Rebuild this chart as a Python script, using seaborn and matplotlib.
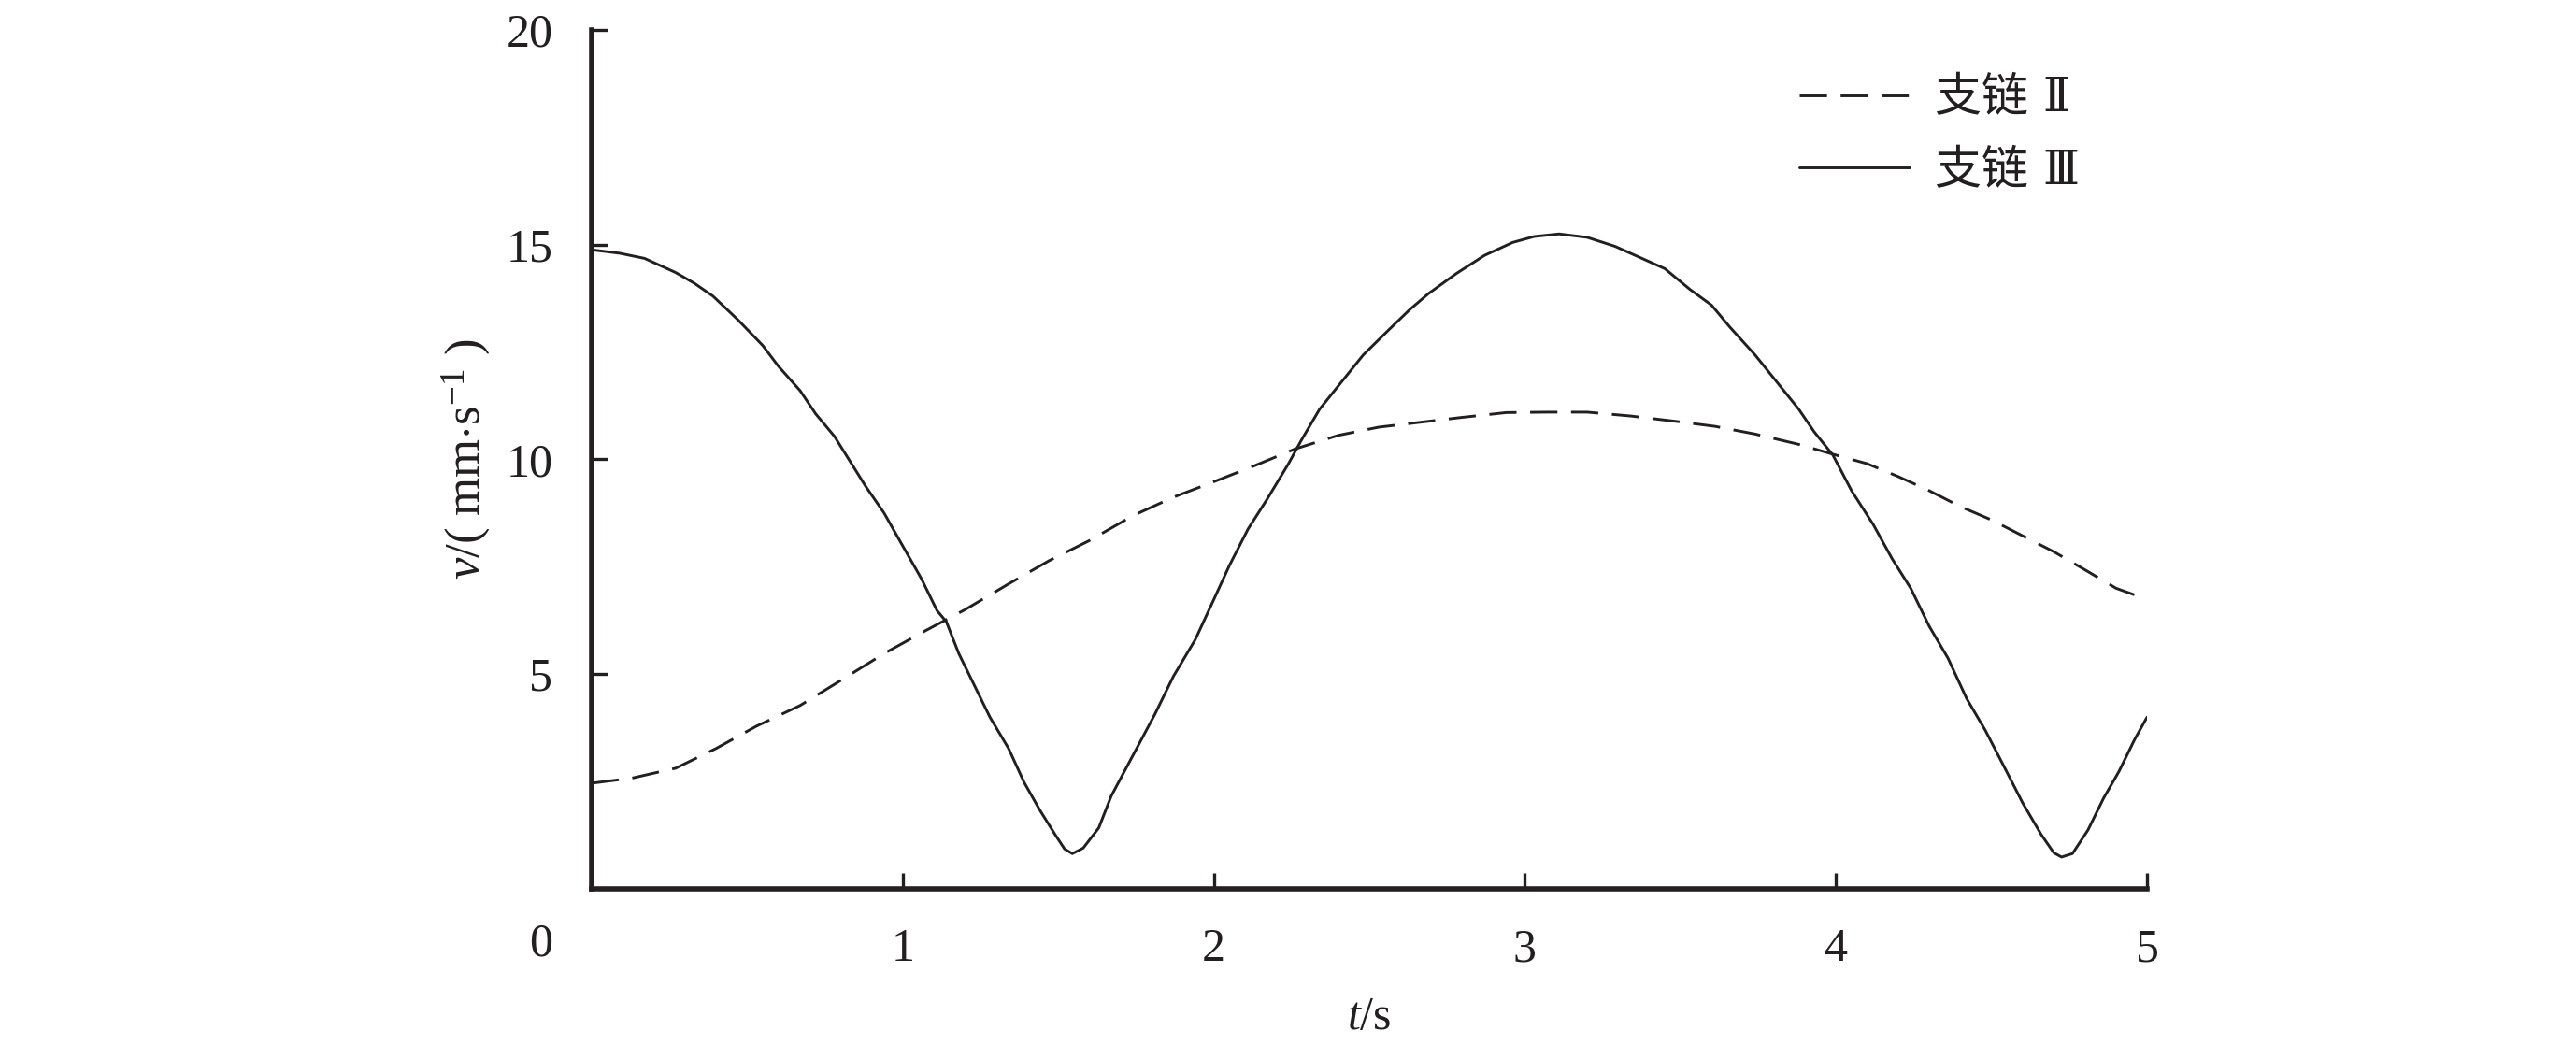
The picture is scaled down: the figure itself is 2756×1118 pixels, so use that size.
import numpy as np
import pandas as pd
import seaborn as sns
import matplotlib.pyplot as plt

# %%
# values (t in s, v in mm/s)
t_branch3 = [0, 0.09, 0.17, 0.27, 0.33, 0.39, 0.47, 0.55, 0.60, 0.67,
             0.72, 0.78, 0.83, 0.88, 0.94, 0.99, 1.06, 1.11, 1.14, 1.18,
             1.23, 1.28, 1.34, 1.39, 1.44, 1.49, 1.52, 1.545, 1.58, 1.63,
             1.67, 1.74, 1.81, 1.87, 1.94, 2.0, 2.05, 2.11, 2.17, 2.24,
             2.28, 2.34, 2.41, 2.48, 2.56, 2.63, 2.69, 2.78, 2.87, 2.96,
             3.03, 3.11, 3.2, 3.29, 3.37, 3.45, 3.53, 3.6, 3.66, 3.74,
             3.81, 3.88, 3.93, 3.99, 4.05, 4.12, 4.18, 4.24, 4.3, 4.36,
             4.42, 4.48, 4.54, 4.6, 4.66, 4.7, 4.725, 4.76, 4.81, 4.86,
             4.91, 4.96, 5.0]
v_branch3 = [14.88, 14.8, 14.68, 14.35, 14.1, 13.8, 13.25, 12.65, 12.17, 11.6,
             11.06, 10.54, 9.96, 9.38, 8.75, 8.11, 7.22, 6.48, 6.22, 5.48,
             4.74, 4.0, 3.27, 2.48, 1.84, 1.26, 0.93, 0.82, 0.95, 1.42,
             2.16, 3.11, 4.06, 4.95, 5.8, 6.74, 7.53, 8.38, 9.06, 9.9,
             10.43, 11.17, 11.8, 12.43, 13.0, 13.49, 13.86, 14.33, 14.75, 15.05,
             15.19, 15.25, 15.17, 14.96, 14.7, 14.44, 13.96, 13.59, 13.07, 12.43,
             11.8, 11.17, 10.64, 10.1, 9.27, 8.48, 7.69, 7.0, 6.11, 5.37,
             4.43, 3.69, 2.85, 2.0, 1.26, 0.84, 0.74, 0.82, 1.37, 2.11,
             2.74, 3.48, 4.0]

t_branch2 = [0, 0.13, 0.27, 0.4, 0.53, 0.67, 0.8, 0.94, 1.07, 1.2,
             1.34, 1.47, 1.6, 1.74, 1.87, 2.0, 2.13, 2.26, 2.4, 2.53,
             2.67, 2.8, 2.94, 3.07, 3.2, 3.34, 3.48, 3.61, 3.74, 3.88,
             4.0, 4.1, 4.2, 4.3, 4.4, 4.5, 4.6, 4.7, 4.8, 4.9, 5.0]
v_branch2 = [2.46, 2.58, 2.81, 3.27, 3.79, 4.27, 4.85, 5.48, 6.0, 6.5,
             7.1, 7.64, 8.11, 8.69, 9.12, 9.48, 9.85, 10.24, 10.56, 10.75,
             10.87, 10.98, 11.09, 11.1, 11.1, 11.01, 10.89, 10.77, 10.59, 10.35,
             10.1, 9.9, 9.6, 9.27, 8.9, 8.59, 8.22, 7.85, 7.43, 7.0, 6.74]

labels = ["支链 Ⅱ", "支链 Ⅲ"]
x_ticks = [1, 2, 3, 4, 5]
y_ticks = [5, 10, 15, 20]

# %%
sns.set_theme(style="white")
plt.rcParams["font.family"] = ["Liberation Serif", "Noto Sans CJK SC", "DejaVu Sans"]
plt.rcParams["mathtext.fontset"] = "custom"
plt.rcParams["mathtext.rm"] = "Liberation Serif"
plt.rcParams["mathtext.it"] = "Liberation Serif:italic"

ink = "#231f20"
fs = 18

fig = plt.figure(figsize=(13.78, 5.59), dpi=200)
ax = fig.add_axes([0.2297, 0.1494, 0.6038, 0.822])

df2 = pd.DataFrame({"t": t_branch2, "v": v_branch2})
df3 = pd.DataFrame({"t": t_branch3, "v": v_branch3})
sns.lineplot(data=df2, x="t", y="v", ax=ax, color=ink, lw=1.05,
             linestyle=(0, (10, 5)), label=labels[0])
sns.lineplot(data=df3, x="t", y="v", ax=ax, color=ink, lw=1.05,
             label=labels[1])

ax.set_xlim(0, 5)
ax.set_ylim(0, 20)
ax.set_xticks(x_ticks)
ax.set_yticks(y_ticks)
ax.tick_params(bottom=True, left=True, direction="in", length=6, width=1.2,
               color=ink, labelsize=fs, labelcolor=ink, pad=15)
for side in ["top", "right"]:
    ax.spines[side].set_visible(False)
for side in ["left", "bottom"]:
    ax.spines[side].set_linewidth(2.0)
    ax.spines[side].set_color(ink)

# origin label sits below the corner
ax.annotate("0", xy=(0, 0), xytext=(-19.5, -21.5), textcoords="offset points",
            ha="center", va="center", fontsize=fs, color=ink,
            annotation_clip=False)

ax.set_xlabel(r"$\mathit{t}$/s", fontsize=fs, color=ink)
ax.set_ylabel(r"$\mathit{v}$/( mm$\cdot$s$^{-1}$ )", fontsize=fs + 1, color=ink)
ax.xaxis.set_label_coords(0.5, -0.125)
ax.yaxis.set_label_coords(-0.064, 0.5)

ax.legend(loc="upper left", bbox_to_anchor=(0.6985, 0.9275),
          bbox_transform=fig.transFigure, frameon=False, borderpad=0,
          borderaxespad=0, handlelength=2.35, handletextpad=0.55,
          labelspacing=0.56,
          prop={"family": ["DejaVu Serif", "Noto Sans CJK SC"], "size": fs},
          labelcolor=ink)

fig.savefig("out.png", dpi=200, facecolor="white")
